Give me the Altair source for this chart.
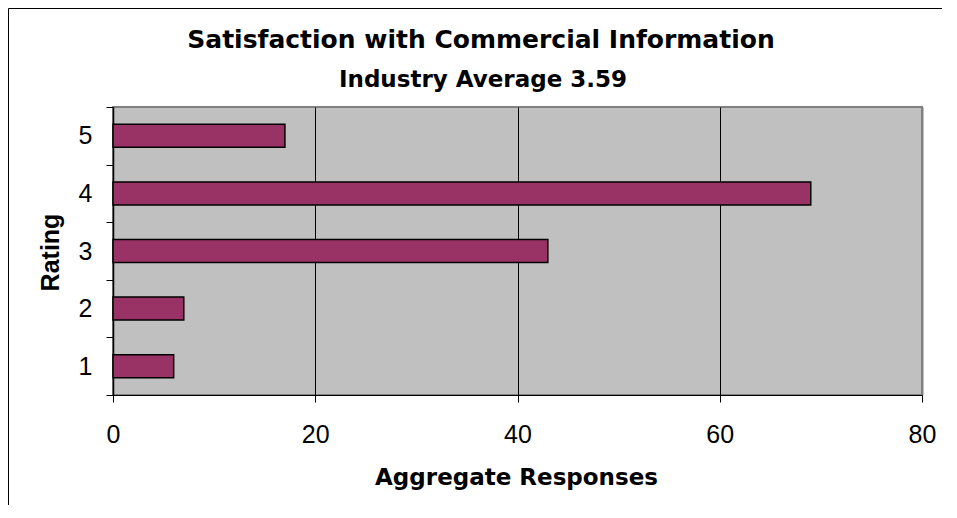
import altair as alt
import pandas as pd

# ---- data ----
ratings = [1, 2, 3, 4, 5]
responses = [6, 7, 43, 69, 17]
x_ticks = [0, 20, 40, 60, 80]
title_text = ["Satisfaction with Commercial Information"]
subtitle_text = ["Industry Average 3.59"]
x_title = "Aggregate Responses"
y_title = "Rating"

df = pd.DataFrame({"Rating": ratings, "Responses": responses})
title_df = pd.DataFrame({"t": title_text})
subtitle_df = pd.DataFrame({"t": subtitle_text})
one = pd.DataFrame({"k": [0]})

W, H = 809, 288

bars = alt.Chart(df).mark_bar(
    fill="#993366", stroke="#000000", strokeWidth=1.5, height={"band": 0.4}
).encode(
    x=alt.X(
        "Responses:Q",
        scale=alt.Scale(domain=[0, 80], nice=False, zero=True),
        axis=alt.Axis(
            values=x_ticks,
            title=x_title,
            grid=True,
            gridColor={"condition": {"test": "datum.value === 80", "value": "#808080"}, "value": "#000000"},
            gridWidth={"condition": {"test": "datum.value === 80", "value": 2}, "value": 1},
            domain=True,
            ticks=True,
            domainColor="#000000",
            domainWidth=1,
            tickColor="#000000",
            tickSize=7,
            labelFlush=False,
            labelOverlap=False,
            labelFont="Liberation Sans",
            labelFontSize=25,
            labelColor="#000000",
            labelPadding=20,
            titleFont="DejaVu Sans",
            titleFontSize=23,
            titleFontWeight="bold",
            titleColor="#000000",
            titleX=403,
            titleY=89,
            titleBaseline="alphabetic",
            titleAlign="center",
        ),
    ),
    y=alt.Y(
        "Rating:O",
        sort="descending",
        scale=alt.Scale(paddingInner=0, paddingOuter=0),
        axis=alt.Axis(
            title=y_title,
            domain=True,
            ticks=True,
            tickBand="extent",
            labelAngle=0,
            domainColor="#000000",
            domainWidth=1.5,
            tickColor="#000000",
            tickWidth=1,
            tickSize=7,
            labelFont="Liberation Sans",
            labelFontSize=25,
            labelColor="#000000",
            labelPadding=14,
            titleFont="Liberation Sans",
            titleFontSize=25,
            titleFontWeight="bold",
            titleColor="#000000",
            titleAngle=270,
            titleX=-63,
            titleY=145,
            titleBaseline="middle",
            titleAlign="center",
        ),
    ),
)

border_top = alt.Chart(one).mark_rule(color="#000000", strokeWidth=1).encode(
    x=alt.value(-104.5), x2=alt.value(830), y=alt.value(-98.5)
)
border_left = alt.Chart(one).mark_rule(color="#000000", strokeWidth=1).encode(
    x=alt.value(-104.5), y=alt.value(-98.5), y2=alt.value(398)
)

title = alt.Chart(title_df).mark_text(
    font="DejaVu Sans", fontSize=25, fontWeight="bold", align="center",
    baseline="alphabetic", color="#000000"
).encode(x=alt.value(368), y=alt.value(-59.5), text="t:N")

subtitle = alt.Chart(subtitle_df).mark_text(
    font="DejaVu Sans", fontSize=23, fontWeight="bold", align="center",
    baseline="alphabetic", color="#000000"
).encode(x=alt.value(370), y=alt.value(-20.5), text="t:N")

chart = alt.layer(bars, border_top, border_left, title, subtitle).properties(
    width=W,
    height=H,
    autosize=alt.AutoSizeParams(type="none"),
    padding={"left": 105, "top": 99, "right": 20, "bottom": 110},
    background="#FFFFFF",
).configure_view(
    stroke="#808080", strokeWidth=2, fill="#C0C0C0"
).configure_axisBand(
    domain=True, ticks=True
)

chart.save("out.html", embed_options={"renderer": "svg", "actions": False})
